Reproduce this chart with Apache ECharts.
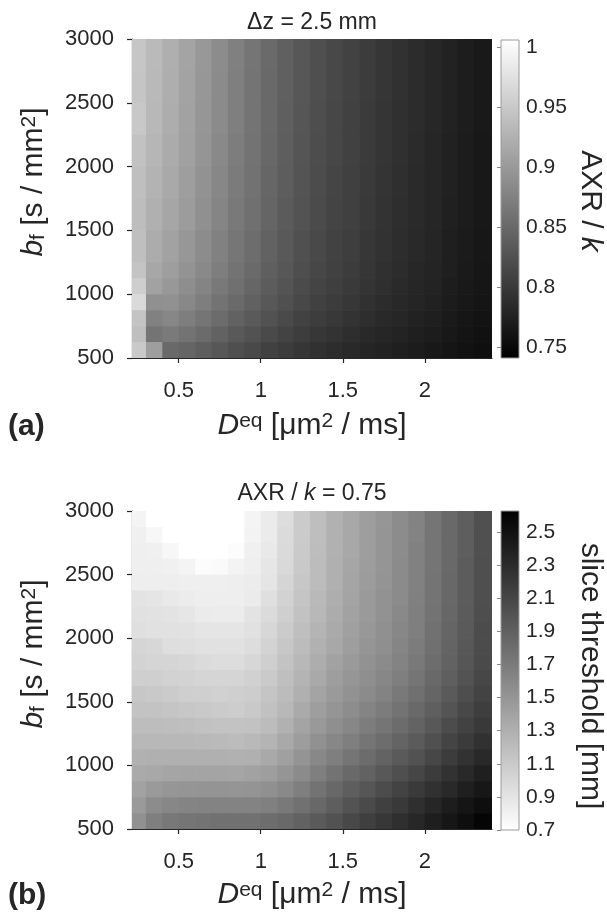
<!DOCTYPE html>
<html><head><meta charset="utf-8">
<script src="https://cdn.jsdelivr.net/npm/echarts@6/dist/echarts.min.js"></script>
<style>html,body{margin:0;padding:0;background:#fff}#c{width:607px;height:917px}</style>
</head><body><div id="c"></div>
<script>
// ---- data ----
const D_EQ = [0.25,0.35,0.45,0.55,0.65,0.75,0.85,0.95,1.05,1.15,1.25,1.35,1.45,1.55,1.65,1.75,1.85,1.95,2.05,2.15,2.25,2.35];
const D_RANGE = [0.215, 2.41];
const X_TICKS = [0.5, 1, 1.5, 2];
// panel (a): row edges of b_f, top to bottom
const BF_EDGES_A = [3000,2750,2500,2250,2000,1750,1500,1250,1125,1000,875,750,625,500];
const AXR_K = [
 [0.947,0.934,0.923,0.911,0.899,0.886,0.874,0.863,0.851,0.841,0.831,0.823,0.816,0.810,0.803,0.797,0.792,0.787,0.782,0.776,0.771,0.767],
 [0.946,0.933,0.922,0.910,0.898,0.885,0.873,0.862,0.850,0.841,0.831,0.823,0.816,0.810,0.803,0.797,0.792,0.787,0.782,0.776,0.771,0.767],
 [0.949,0.932,0.921,0.909,0.897,0.885,0.873,0.862,0.850,0.840,0.830,0.822,0.815,0.809,0.802,0.796,0.791,0.787,0.782,0.776,0.771,0.767],
 [0.943,0.930,0.919,0.908,0.896,0.883,0.871,0.861,0.849,0.839,0.829,0.821,0.815,0.809,0.802,0.796,0.791,0.786,0.781,0.775,0.770,0.766],
 [0.940,0.927,0.917,0.905,0.893,0.881,0.869,0.859,0.847,0.838,0.828,0.820,0.813,0.808,0.801,0.795,0.790,0.785,0.781,0.775,0.770,0.766],
 [0.937,0.924,0.914,0.903,0.891,0.879,0.867,0.857,0.846,0.836,0.827,0.819,0.812,0.807,0.800,0.794,0.789,0.785,0.780,0.774,0.770,0.766],
 [0.940,0.920,0.909,0.898,0.887,0.875,0.864,0.854,0.843,0.834,0.824,0.817,0.810,0.805,0.798,0.793,0.788,0.784,0.779,0.773,0.769,0.765],
 [0.945,0.915,0.905,0.894,0.883,0.872,0.861,0.851,0.840,0.831,0.822,0.815,0.809,0.803,0.797,0.791,0.787,0.782,0.778,0.773,0.768,0.764],
 [0.955,0.909,0.899,0.889,0.878,0.867,0.857,0.847,0.837,0.828,0.819,0.812,0.806,0.801,0.795,0.790,0.785,0.781,0.777,0.771,0.767,0.764],
 [0.968,0.891,0.892,0.882,0.872,0.861,0.851,0.842,0.832,0.824,0.816,0.809,0.803,0.798,0.792,0.787,0.783,0.779,0.775,0.770,0.766,0.763],
 [0.945,0.875,0.881,0.872,0.863,0.853,0.843,0.835,0.826,0.818,0.810,0.804,0.799,0.794,0.789,0.784,0.780,0.776,0.773,0.768,0.764,0.761],
 [0.940,0.862,0.868,0.860,0.852,0.843,0.834,0.826,0.818,0.811,0.804,0.798,0.794,0.789,0.784,0.780,0.777,0.773,0.770,0.766,0.762,0.759],
 [0.950,0.905,0.850,0.846,0.839,0.831,0.823,0.817,0.809,0.803,0.797,0.792,0.788,0.784,0.779,0.776,0.773,0.770,0.766,0.763,0.760,0.757]
];
const AXR_RANGE = [0.741, 1.006];
const AXR_TICKS = [0.75, 0.8, 0.85, 0.9, 0.95, 1];
// panel (b)
const BF_EDGES_B = [3000,2875,2750,2625,2500,2375,2250,2125,2000,1875,1750,1625,1500,1375,1250,1125,1000,875,750,625,500];
const SLICE_THR = [
 [0.78,0.70,0.70,0.70,0.70,0.70,0.70,0.78,0.85,0.96,1.09,1.19,1.29,1.36,1.43,1.49,1.57,1.64,1.74,1.83,1.92,2.02],
 [0.81,0.76,0.70,0.70,0.70,0.70,0.70,0.79,0.85,0.97,1.09,1.19,1.29,1.36,1.43,1.50,1.57,1.64,1.74,1.83,1.92,2.02],
 [0.82,0.81,0.76,0.70,0.70,0.70,0.72,0.81,0.87,0.98,1.10,1.20,1.29,1.36,1.43,1.50,1.57,1.65,1.74,1.83,1.92,2.02],
 [0.82,0.82,0.81,0.78,0.72,0.74,0.79,0.82,0.89,0.99,1.11,1.21,1.30,1.37,1.44,1.50,1.58,1.65,1.74,1.83,1.93,2.03],
 [0.83,0.83,0.83,0.82,0.82,0.82,0.83,0.84,0.90,1.02,1.12,1.21,1.30,1.38,1.45,1.51,1.58,1.65,1.75,1.84,1.93,2.03],
 [0.91,0.90,0.87,0.84,0.83,0.83,0.83,0.85,0.94,1.04,1.14,1.23,1.31,1.39,1.46,1.52,1.58,1.66,1.75,1.84,1.93,2.03],
 [0.93,0.92,0.91,0.89,0.85,0.84,0.84,0.91,0.97,1.06,1.16,1.24,1.33,1.40,1.46,1.52,1.59,1.67,1.76,1.85,1.94,2.04],
 [0.94,0.93,0.93,0.92,0.90,0.90,0.90,0.93,1.00,1.09,1.18,1.27,1.34,1.42,1.48,1.54,1.61,1.67,1.77,1.86,1.95,2.05],
 [1.02,1.00,0.95,0.94,0.93,0.93,0.93,0.96,1.03,1.12,1.21,1.29,1.36,1.43,1.50,1.55,1.62,1.69,1.78,1.87,1.96,2.05],
 [1.03,1.02,1.02,1.00,0.97,0.96,0.96,1.00,1.06,1.15,1.24,1.32,1.40,1.46,1.52,1.58,1.64,1.71,1.80,1.89,1.98,2.07],
 [1.06,1.06,1.04,1.03,1.02,1.02,1.02,1.05,1.10,1.18,1.27,1.35,1.43,1.49,1.55,1.61,1.67,1.74,1.83,1.91,2.00,2.09],
 [1.12,1.11,1.09,1.06,1.06,1.05,1.06,1.08,1.14,1.21,1.30,1.39,1.46,1.52,1.58,1.64,1.71,1.78,1.86,1.95,2.04,2.12],
 [1.15,1.15,1.14,1.12,1.11,1.09,1.08,1.11,1.17,1.24,1.34,1.43,1.50,1.56,1.63,1.69,1.76,1.83,1.91,1.99,2.08,2.16],
 [1.20,1.20,1.19,1.18,1.17,1.15,1.15,1.16,1.21,1.29,1.39,1.47,1.55,1.61,1.68,1.74,1.81,1.88,1.96,2.05,2.13,2.20],
 [1.24,1.24,1.24,1.24,1.23,1.22,1.21,1.23,1.27,1.35,1.44,1.53,1.61,1.67,1.74,1.80,1.87,1.94,2.02,2.11,2.18,2.26],
 [1.29,1.30,1.30,1.30,1.30,1.30,1.29,1.30,1.35,1.42,1.51,1.60,1.67,1.74,1.81,1.88,1.95,2.01,2.09,2.17,2.25,2.32],
 [1.34,1.36,1.38,1.39,1.39,1.39,1.38,1.40,1.43,1.50,1.58,1.67,1.76,1.83,1.89,1.96,2.03,2.10,2.17,2.25,2.32,2.39],
 [1.40,1.46,1.49,1.50,1.51,1.51,1.50,1.51,1.54,1.59,1.67,1.76,1.84,1.92,1.98,2.05,2.12,2.19,2.26,2.32,2.39,2.45],
 [1.46,1.57,1.61,1.63,1.64,1.64,1.64,1.64,1.66,1.71,1.77,1.84,1.92,2.00,2.07,2.14,2.20,2.27,2.34,2.41,2.47,2.52],
 [1.53,1.67,1.72,1.74,1.76,1.77,1.77,1.77,1.80,1.83,1.89,1.95,2.01,2.08,2.15,2.21,2.27,2.33,2.40,2.46,2.52,2.59]
];
const SLICE_RANGE = [0.7, 2.627];
const SLICE_TICKS = [0.7,0.9,1.1,1.3,1.5,1.7,1.9,2.1,2.3,2.5];

// ---- build cells ----
function buildCells(rows, edges) {
  const out = [];
  const n = D_EQ.length;
  rows.forEach((row, i) => {
    row.forEach((v, j) => {
      const x0 = j === 0 ? D_RANGE[0] : (D_EQ[j-1] + D_EQ[j]) / 2;
      const x1 = j === n-1 ? D_RANGE[1] : (D_EQ[j] + D_EQ[j+1]) / 2;
      out.push([x0, x1, edges[i+1], edges[i], v]);
    });
  });
  return out;
}
const cellsA = buildCells(AXR_K, BF_EDGES_A);
const cellsB = buildCells(SLICE_THR, BF_EDGES_B);

const FONT = 'Liberation Sans';
const TXT = '#262626';
const FS = 22;   // tick labels
const FT = 23;   // titles
const FN = 30;   // axis names
const FSUB = 21;

function cellItem(params, api) {
  const a = api.coord([api.value(0), api.value(3)]);
  const b = api.coord([api.value(1), api.value(2)]);
  return {type:'rect', shape:{x:a[0], y:a[1], width:b[0]-a[0]+0.7, height:b[1]-a[1]+0.7},
          style:{fill:api.visual('color')}};
}
function barItem(topColor, botColor) {
  return function(params, api) {
    const cs = params.coordSys;
    return {type:'rect', shape:{x:cs.x, y:cs.y, width:cs.width, height:cs.height},
      style:{fill:new echarts.graphic.LinearGradient(0,0,0,1,[{offset:0,color:topColor},{offset:1,color:botColor}]),
             stroke:'#9a9a9a', lineWidth:1}};
  };
}

const grids = [
  {left:132, top:39, width:360, height:319},
  {left:132, top:511, width:360, height:318},
  {left:501, top:40, width:18, height:318},
  {left:501, top:511, width:18, height:319}
];
function mainX(g) {
  return {gridIndex:g, type:'value', min:D_RANGE[0], max:D_RANGE[1],
    axisLine:{show:true, onZero:false, lineStyle:{color:TXT, width:1.2}},
    axisTick:{show:true, length:5, customValues:X_TICKS, lineStyle:{color:TXT, width:1.2}},
    axisLabel:{customValues:X_TICKS, color:TXT, fontSize:FS, fontFamily:FONT, margin:22},
    splitLine:{show:false}};
}
function mainY(g) {
  return {gridIndex:g, type:'value', min:500, max:3000, interval:500,
    axisLine:{show:true, onZero:false, lineStyle:{color:TXT, width:1.2}},
    axisTick:{show:true, length:5, lineStyle:{color:TXT, width:1.2}},
    axisLabel:{color:TXT, fontSize:FS, fontFamily:FONT, margin:18, formatter:v => String(v)},
    splitLine:{show:false}};
}
function cbY(g, range, ticks) {
  return {gridIndex:g, type:'value', position:'right', min:range[0], max:range[1],
    axisLine:{show:false},
    axisTick:{show:true, inside:true, length:4, customValues:ticks, lineStyle:{color:'#888'}},
    axisLabel:{customValues:ticks, color:TXT, fontSize:21, fontFamily:FONT, margin:7},
    splitLine:{show:false}};
}
const it = {fontStyle:'italic', fontSize:FN, fontFamily:FONT, fill:TXT};
const sup = {fontSize:FSUB, fontFamily:FONT, fill:TXT, verticalAlign:'top'};
const sub = {fontSize:FSUB, fontFamily:FONT, fill:TXT, verticalAlign:'bottom'};

const option = {
  backgroundColor:'#fff',
  animation:false,
  grid: grids,
  xAxis:[mainX(0), mainX(1),
    {gridIndex:2, type:'value', min:0, max:1, show:false},
    {gridIndex:3, type:'value', min:0, max:1, show:false}],
  yAxis:[mainY(0), mainY(1), cbY(2, AXR_RANGE, AXR_TICKS), cbY(3, SLICE_RANGE, SLICE_TICKS)],
  visualMap:[
    {type:'continuous', show:false, seriesIndex:0, dimension:4, min:AXR_RANGE[0], max:AXR_RANGE[1], inRange:{color:['#000000','#ffffff']}},
    {type:'continuous', show:false, seriesIndex:1, dimension:4, min:SLICE_RANGE[0], max:SLICE_RANGE[1], inRange:{color:['#ffffff','#000000']}}
  ],
  series:[
    {type:'custom', xAxisIndex:0, yAxisIndex:0, renderItem:cellItem, data:cellsA, encode:{x:[0,1], y:[2,3]}, clip:true, silent:true, z:1},
    {type:'custom', xAxisIndex:1, yAxisIndex:1, renderItem:cellItem, data:cellsB, encode:{x:[0,1], y:[2,3]}, clip:true, silent:true, z:1},
    {type:'custom', xAxisIndex:2, yAxisIndex:2, renderItem:barItem('#ffffff','#000000'), data:[[0.5, AXR_RANGE[0]]], silent:true},
    {type:'custom', xAxisIndex:3, yAxisIndex:3, renderItem:barItem('#000000','#ffffff'), data:[[0.5, SLICE_RANGE[0]]], silent:true}
  ],
  graphic:[
    {type:'text', x:312, y:23, style:{text:'Δz = 2.5 mm', font:FT+'px '+FONT, fill:TXT, align:'center', verticalAlign:'middle'}},
    {type:'text', x:312, y:494, style:{text:'AXR / {i|k} = 0.75', font:FT+'px '+FONT, fill:TXT, align:'center', verticalAlign:'middle',
      rich:{i:{fontStyle:'italic', fontSize:FT, fontFamily:FONT, fill:TXT}}}},
    {type:'text', x:312, y:426, style:{text:'{i|D}{s|eq} [μm{s|2} / ms]', font:FN+'px '+FONT, fill:TXT, align:'center', verticalAlign:'middle',
      rich:{i:it, s:sup}}},
    {type:'text', x:312, y:895, style:{text:'{i|D}{s|eq} [μm{s|2} / ms]', font:FN+'px '+FONT, fill:TXT, align:'center', verticalAlign:'middle',
      rich:{i:it, s:sup}}},
    {type:'text', x:34, y:182, rotation:Math.PI/2, style:{text:'{i|b}{f|f} [s / mm{s|2}]', font:FN+'px '+FONT, fill:TXT, align:'center', verticalAlign:'middle',
      rich:{i:it, f:sub, s:sup}}},
    {type:'text', x:34, y:654, rotation:Math.PI/2, style:{text:'{i|b}{f|f} [s / mm{s|2}]', font:FN+'px '+FONT, fill:TXT, align:'center', verticalAlign:'middle',
      rich:{i:it, f:sub, s:sup}}},
    {type:'text', x:590, y:201, rotation:-Math.PI/2, style:{text:'AXR / {i|k}', font:FN+'px '+FONT, fill:TXT, align:'center', verticalAlign:'middle',
      rich:{i:it}}},
    {type:'text', x:590, y:676, rotation:-Math.PI/2, style:{text:'slice threshold [mm]', font:FN+'px '+FONT, fill:TXT, align:'center', verticalAlign:'middle'}},
    {type:'text', x:8, y:427, style:{text:'(a)', font:'bold '+FN+'px '+FONT, fill:TXT, align:'left', verticalAlign:'middle'}},
    {type:'text', x:8, y:896, style:{text:'(b)', font:'bold '+FN+'px '+FONT, fill:TXT, align:'left', verticalAlign:'middle'}}
  ]
};
const chart = echarts.init(document.getElementById('c'), null, {renderer:'canvas'});
chart.setOption(option);
</script></body></html>
